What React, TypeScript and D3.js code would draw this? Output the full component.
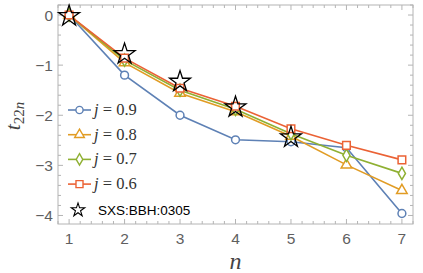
import * as d3 from 'd3';

// chart data
const nValues = [1, 2, 3, 4, 5, 6, 7];
const j09 = [0, -1.2, -2.0, -2.49, -2.53, -2.65, -3.96];
const j08 = [0, -0.95, -1.56, -1.93, -2.42, -2.99, -3.5];
const j07 = [0, -0.9, -1.5, -1.88, -2.37, -2.8, -3.16];
const j06 = [0, -0.86, -1.46, -1.82, -2.27, -2.6, -2.89];
const sxsN = [1, 2, 3, 4, 5];
const sxsValues = [0, -0.76, -1.31, -1.82, -2.42];
const xTicks = [1, 2, 3, 4, 5, 6, 7];
const yTicks = [0, -1, -2, -3, -4];

const series = [
  { label: '0.9', values: j09, color: '#5E81B5', shape: d3.symbolCircle, size: 48 },
  { label: '0.8', values: j08, color: '#E19C24', shape: d3.symbolTriangle, size: 48 },
  { label: '0.7', values: j07, color: '#8FB032', shape: d3.symbolDiamond, size: 44 },
  { label: '0.6', values: j06, color: '#EB6235', shape: d3.symbolSquare, size: 58 },
];

const W = 423, H = 273;
const m = { left: 58, right: 10, top: 5, bottom: 49 };

export default function App() {
  const x = d3.scaleLinear().domain([0.8, 7.2]).range([m.left, W - m.right]);
  const y = d3.scaleLinear().domain([0.2, -4.17]).range([m.top, H - m.bottom]);
  const x0 = m.left, x1 = W - m.right, y0 = m.top, y1 = H - m.bottom;

  const line = d3.line<number>().x((_, i) => x(nValues[i])).y(d => y(d));
  const sym = (shape: d3.SymbolType, size: number) => d3.symbol().type(shape).size(size)() || '';

  const xMinor = d3.range(0.8, 7.2001, 0.2).filter(v => Math.abs(v - Math.round(v)) > 0.01);
  const yMinor = d3.range(-4.2, 0.2001, 0.2).filter(v => v > -4.17 && Math.abs(v - Math.round(v)) > 0.01);

  const frame = '#b4b4b4';
  const tickCol = '#5f5f5f';

  return (
    <svg width={W} height={H} style={{ position: 'absolute', left: 0, top: 0 }}>
      <rect x={0} y={0} width={W} height={H} fill="white" />
      {/* frame */}
      <rect x={x0} y={y0} width={x1 - x0} height={y1 - y0} fill="none" stroke={frame} strokeWidth={1} />
      {/* ticks */}
      {xTicks.map(t => (
        <g key={'xt' + t}>
          <line x1={x(t)} x2={x(t)} y1={y1} y2={y1 - 5} stroke={frame} />
          <line x1={x(t)} x2={x(t)} y1={y0} y2={y0 + 5} stroke={frame} />
          <text x={x(t)} y={244} textAnchor="middle" fontSize={15.5} fill={tickCol}
            fontFamily="Liberation Sans, Arial, sans-serif">{t}</text>
        </g>
      ))}
      {xMinor.map((t, i) => (
        <g key={'xm' + i}>
          <line x1={x(t)} x2={x(t)} y1={y1} y2={y1 - 3} stroke={frame} />
          <line x1={x(t)} x2={x(t)} y1={y0} y2={y0 + 3} stroke={frame} />
        </g>
      ))}
      {yTicks.map(t => (
        <g key={'yt' + t}>
          <line x1={x0} x2={x0 + 5} y1={y(t)} y2={y(t)} stroke={frame} />
          <line x1={x1} x2={x1 - 5} y1={y(t)} y2={y(t)} stroke={frame} />
          <text x={53} y={y(t) + 5.5} textAnchor="end" fontSize={15.5} fill={tickCol}
            fontFamily="Liberation Sans, Arial, sans-serif">{t === 0 ? '0' : '\u2212' + Math.abs(t)}</text>
        </g>
      ))}
      {yMinor.map((t, i) => (
        <g key={'ym' + i}>
          <line x1={x0} x2={x0 + 3} y1={y(t)} y2={y(t)} stroke={frame} />
          <line x1={x1} x2={x1 - 3} y1={y(t)} y2={y(t)} stroke={frame} />
        </g>
      ))}

      {/* axis titles */}
      <text transform={`translate(20,116) rotate(-90)`} textAnchor="middle" fill="#444"
        fontFamily="Liberation Serif, Times New Roman, serif" fontStyle="italic">
        <tspan fontSize={22}>t</tspan>
        <tspan fontSize={15} fontStyle="normal" dy={4}>22</tspan>
        <tspan fontSize={15} dy={0}>n</tspan>
      </text>
      <text x={(x0 + x1) / 2} y={269} textAnchor="middle" fontSize={24} fill="#444"
        fontFamily="Liberation Serif, Times New Roman, serif" fontStyle="italic">n</text>

      {/* series */}
      {series.map(s => (
        <g key={s.label}>
          <path d={line(s.values) || ''} fill="none" stroke={s.color} strokeWidth={1.6} />
          {s.values.map((v, i) => (
            <path key={i} d={sym(s.shape, s.size)} transform={`translate(${x(nValues[i])},${y(v)})`}
              fill="white" stroke={s.color} strokeWidth={1.5} />
          ))}
        </g>
      ))}
      {sxsValues.map((v, i) => (
        <path key={'s' + i} d={sym(d3.symbolStar, 136)} transform={`translate(${x(sxsN[i])},${y(v) + 1})`}
          fill="none" stroke="black" strokeWidth={1.3} strokeLinejoin="miter" />
      ))}

      {/* legend */}
      {series.map((s, i) => {
        const ly = 110 + i * 24.7;
        return (
          <g key={'lg' + s.label}>
            <line x1={68} x2={91} y1={ly} y2={ly} stroke={s.color} strokeWidth={1.6} />
            <path d={sym(s.shape, s.size * 0.85)} transform={`translate(79.5,${ly})`} fill="white"
              stroke={s.color} strokeWidth={1.4} />
            <text x={94} y={ly + 5} fontSize={16.5} fill="#333" fontFamily="Liberation Serif, Times New Roman, serif">
              <tspan fontStyle="italic">j</tspan> = {s.label}
            </text>
          </g>
        );
      })}
      <path d={sym(d3.symbolStar, 56)} transform="translate(78,210)" fill="none" stroke="black" strokeWidth={1.1} />
      <text x={98} y={215} fontSize={13.5} fill="black" fontFamily="Liberation Sans, Arial, sans-serif">SXS:BBH:0305</text>
    </svg>
  );
}
